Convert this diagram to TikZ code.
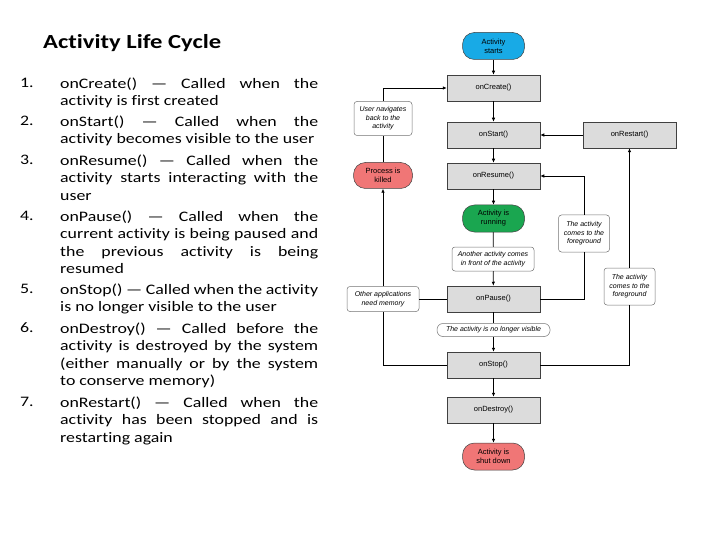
\documentclass[tikz,border=0pt]{standalone}
\usepackage{fontspec}
\setmainfont{Carlito}
\newfontfamily\listfont[FakeStretch=1.23,Ligatures=NoCommon]{Carlito}
\newfontfamily\dfont{Liberation Sans}
\usetikzlibrary{arrows.meta}
\definecolor{tblue}{RGB}{24,170,230}
\definecolor{tgreen}{RGB}{26,166,80}
\definecolor{tred}{RGB}{240,118,118}
\definecolor{pgray}{RGB}{220,220,220}
\hyphenpenalty=10000
\tolerance=10000
\begin{document}
\begin{tikzpicture}[x=1pt,y=-1pt,
  proc/.style={draw=black!75,line width=0.5pt,fill=pgray,minimum width=93pt,minimum height=26pt,inner sep=1pt,font=\dfont\fontsize{7.5}{9}\selectfont},
  term/.style={draw=black!75,line width=0.5pt,rounded corners=12pt,minimum width=62pt,minimum height=27pt,inner sep=1pt,align=center,font=\dfont\fontsize{7.5}{9}\selectfont},
  lab/.style={draw=black!55,line width=0.5pt,fill=white,rounded corners=3pt,align=center,inner sep=2pt,font=\dfont\itshape\fontsize{7}{8.5}\selectfont},
  arr/.style={-{Latex[length=4pt,width=3.5pt]}},
  conn/.style={line width=0.7pt},
  num/.style={anchor=north west,inner sep=0pt,font=\listfont\fontsize{14.5}{17.4}\selectfont},
  item/.style={anchor=north west,inner sep=0pt,text width=258pt,align=justify,font=\listfont\fontsize{14.5}{17.4}\selectfont}]
\useasboundingbox (0,0) rectangle (720,540);
% title
\node[anchor=west,inner sep=0pt,font=\listfont\bfseries\fontsize{20}{24}\selectfont] (title) at (43,43) {Activity Life Cycle};
% list
\node[num] (n1) at (20,77.5) {1.};
\node[item] (i1) at (60,77.5) {onCreate() — Called when the\linebreak activity is first created};
\node[num] (n2) at (20,115.5) {2.};
\node[item] (i2) at (60,115.5) {onStart() — Called when the\linebreak activity becomes visible to the user};
\node[num] (n3) at (20,154.5) {3.};
\node[item] (i3) at (60,154.5) {onResume() — Called when the\linebreak activity starts interacting with the\linebreak user};
\node[num] (n4) at (20,210.5) {4.};
\node[item] (i4) at (60,210.5) {onPause() — Called when the\linebreak current activity is being paused and\linebreak the previous activity is being\linebreak resumed};
\node[num] (n5) at (20,283.5) {5.};
\node[item] (i5) at (60,283.5) {onStop() — Called when the activity\linebreak is no longer visible to the user};
\node[num] (n6) at (20,322.5) {6.};
\node[item] (i6) at (60,322.5) {onDestroy() — Called before the\linebreak activity is destroyed by the system\linebreak (either manually or by the system\linebreak to conserve memory)};
\node[num] (n7) at (20,396.5) {7.};
\node[item] (i7) at (60,396.5) {onRestart() — Called when the\linebreak activity has been stopped and is\linebreak restarting again};
% diagram nodes
\node[term,fill=tblue] (start) at (493.5,46) {Activity\\starts};
\node[proc] (create) at (493.5,88) {onCreate()};
\node[proc] (startn) at (493.5,135) {onStart()};
\node[proc] (resume) at (493.5,176) {onResume()};
\node[term,fill=tgreen] (running) at (493.5,218.5) {Activity is\\running};
\node[lab,minimum width=82pt,minimum height=24pt] (another) at (493,259) {Another activity comes\\in front of the activity};
\node[proc] (pause) at (493.5,299) {onPause()};
\node[lab,rounded corners=6pt,minimum width=113pt,minimum height=13pt,inner sep=1pt] (nolonger) at (493.5,330) {The activity is no longer visible};
\node[proc] (stop) at (493.5,365) {onStop()};
\node[proc] (destroy) at (493.5,410) {onDestroy()};
\node[term,fill=tred] (shut) at (493.5,456.5) {Activity is\\shut down};
\node[proc] (restart) at (629.5,135) {onRestart()};
\node[lab,minimum width=51pt,minimum height=37pt] (fg1) at (584,233.5) {The activity\\comes to the\\foreground};
\node[lab,minimum width=51pt,minimum height=37pt] (fg2) at (629.5,286.5) {The activity\\comes to the\\foreground};
\node[term,fill=tred,minimum width=59pt,minimum height=26pt] (killed) at (383,175.5) {Process is\\killed};
\node[lab,minimum width=58pt,minimum height=34pt] (usernav) at (383,118.5) {User navigates\\back to the\\activity};
\node[lab,minimum width=72pt,minimum height=25pt] (other) at (383,299) {Other applications\\need memory};
% connectors
\draw[conn,arr] (start) -- (create);
\draw[conn,arr] (create) -- (startn);
\draw[conn,arr] (startn) -- (resume);
\draw[conn,arr] (resume) -- (running);
\draw[conn] (running) -- (another);
\draw[conn,arr] (another) -- (pause);
\draw[conn] (pause) -- (nolonger);
\draw[conn,arr] (nolonger) -- (stop);
\draw[conn,arr] (stop) -- (destroy);
\draw[conn,arr] (destroy) -- (shut);
\draw[conn,arr] (restart) -- (startn);
\draw[conn] (pause.east) -| (fg1.south);
\draw[conn,arr] (fg1.north) |- (resume.east);
\draw[conn] (stop.east) -| (fg2.south);
\draw[conn,arr] (fg2.north) -- (restart.south);
\draw[conn] (stop.west) -| (other.south);
\draw[conn] (pause.west) -- (other.east);
\draw[conn,arr] (other.north) -- (killed.south);
\draw[conn] (killed.north) -- (usernav.south);
\draw[conn,arr] (usernav.north) |- (create.west);
\end{tikzpicture}
\end{document}
